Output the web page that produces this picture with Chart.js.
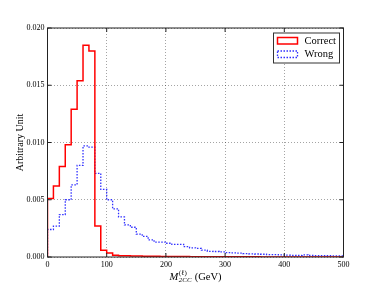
<!DOCTYPE html>
<html>
<head>
<meta charset="utf-8">
<script src="https://cdn.jsdelivr.net/npm/chart.js@4/dist/chart.umd.min.js"></script>
<style>
  html, body { margin: 0; padding: 0; background: #fff; }
</style>
</head>
<body>
<canvas id="histo" width="382" height="286"></canvas>
<script>
// left edges of the 10 GeV bins
const binEdges = [0, 10, 20, 30, 40, 50, 60, 70, 80, 90,
  100, 110, 120, 130, 140, 150, 160, 170, 180, 190,
  200, 210, 220, 230, 240, 250, 260, 270, 280, 290,
  300, 310, 320, 330, 340, 350, 360, 370, 380, 390,
  400, 410, 420, 430, 440, 450, 460, 470, 480, 490];
const xMax = 500;

const correctVals = [0.0051, 0.0062, 0.0079, 0.0098, 0.0129, 0.0154, 0.0185, 0.0180, 0.0027, 0.0006,
  0.00035, 0.00016, 0.00011, 0.0001, 0.00009, 0.00008, 0.00007, 0.00006, 0.00006, 0.00005,
  0.00005, 0.00004, 0.00004, 0.00004, 0.00003, 0.00003, 0.00003, 0.00003, 0.00003, 0.00002,
  0.00002, 0.00002, 0.00002, 0.00002, 0.00002, 0.00002, 0.00001, 0.00001, 0.00001, 0.00001,
  0.00001, 0.00001, 0.00001, 0.00001, 0.00001, 0.00001, 0.00001, 0.00001, 0.00001, 0.00001];

const wrongVals = [0.0024, 0.0027, 0.0037, 0.0050, 0.0063, 0.0080, 0.0097, 0.0096, 0.0073, 0.0059,
  0.0050, 0.0042, 0.0035, 0.0028, 0.0026, 0.0020, 0.0018, 0.0015, 0.0013, 0.0013,
  0.0012, 0.0011, 0.0011, 0.0009, 0.0008, 0.00075, 0.0006, 0.0005, 0.00048, 0.00044,
  0.00038, 0.00036, 0.00034, 0.0003, 0.00028, 0.00026, 0.00024, 0.0002, 0.0002, 0.00018,
  0.00016, 0.00015, 0.00014, 0.00018, 0.00013, 0.00012, 0.00012, 0.00011, 0.0001, 0.0001];

const seriesNames = ['Correct', 'Wrong'];
const xTicks = [0, 100, 200, 300, 400, 500];
const yTicks = [0, 0.005, 0.010, 0.015, 0.020];

const SERIF = '"Liberation Serif", "DejaVu Serif", serif';

// outline of a step histogram: up from zero at the first edge, down to zero at the last
function stepOutline(vals) {
  const pts = [{ x: binEdges[0], y: 0 }];
  binEdges.forEach((e, i) => pts.push({ x: e, y: vals[i] }));
  pts.push({ x: xMax, y: vals[vals.length - 1] });
  pts.push({ x: xMax, y: 0 });
  return pts;
}

// frame, inward ticks, x label with sub/superscripts, boxed legend
const decor = {
  id: 'decor',
  afterDatasetsDraw(chart) {
    const { ctx, chartArea: a, scales: { x, y } } = chart;
    ctx.save();
    ctx.strokeStyle = '#222';
    ctx.lineWidth = 1;
    ctx.setLineDash([]);
    ctx.strokeRect(a.left, a.top, a.right - a.left, a.bottom - a.top);

    ctx.beginPath();
    xTicks.forEach(v => {
      const px = x.getPixelForValue(v);
      ctx.moveTo(px, a.bottom); ctx.lineTo(px, a.bottom - 4);
      ctx.moveTo(px, a.top); ctx.lineTo(px, a.top + 4);
    });
    yTicks.forEach(v => {
      const py = y.getPixelForValue(v);
      ctx.moveTo(a.left, py); ctx.lineTo(a.left + 4, py);
      ctx.moveTo(a.right, py); ctx.lineTo(a.right - 4, py);
    });
    ctx.stroke();

    // x axis label: M_{2CC}^{(l)} (GeV)
    ctx.fillStyle = '#000';
    ctx.textBaseline = 'alphabetic';
    ctx.textAlign = 'left';
    const fBig = 'italic 10.5px ' + SERIF, fSmall = '7px ' + SERIF, fSmallIt = 'italic 7px ' + SERIF, fRoman = '10.5px ' + SERIF;
    ctx.font = fBig; const wM = ctx.measureText('M').width;
    ctx.font = fSmall; const wSup = ctx.measureText('(ℓ)').width;
    ctx.font = fSmallIt; const wSub = ctx.measureText('2CC').width;
    ctx.font = fRoman; const wRest = ctx.measureText(' (GeV)').width;
    const total = wM + Math.max(wSup, wSub) + 1 + wRest;
    let tx = (a.left + a.right) / 2 - total / 2;
    const base = 280;
    ctx.font = fBig; ctx.fillText('M', tx, base);
    tx += wM + 0.5;
    ctx.font = fSmall; ctx.fillText('(ℓ)', tx, base - 5.5);
    ctx.font = fSmallIt; ctx.fillText('2CC', tx, base + 1.5);
    tx += Math.max(wSup, wSub) + 0.5;
    ctx.font = fRoman; ctx.fillText(' (GeV)', tx, base);

    // legend
    const bx = a.right - 70, by = a.top + 5, bw = 66, bh = 30;
    ctx.fillStyle = '#fff';
    ctx.fillRect(bx, by, bw, bh);
    ctx.strokeStyle = '#333';
    ctx.lineWidth = 1;
    ctx.strokeRect(bx, by, bw, bh);
    chart.data.datasets.forEach((ds, i) => {
      const ry = by + 4.5 + i * 13.5;
      ctx.strokeStyle = ds.borderColor;
      ctx.lineWidth = ds.borderWidth;
      ctx.setLineDash(ds.borderDash || []);
      ctx.strokeRect(bx + 4, ry, 20, 6.5);
      ctx.setLineDash([]);
      ctx.fillStyle = '#000';
      ctx.font = '10.5px ' + SERIF;
      ctx.textBaseline = 'middle';
      ctx.fillText(ds.label, bx + 31, ry + 3.5);
    });
    ctx.restore();
  }
};

new Chart(document.getElementById('histo'), {
  type: 'line',
  data: {
    datasets: [
      { label: seriesNames[0], data: stepOutline(correctVals), borderColor: '#ff0000', borderWidth: 1.5, stepped: true, pointRadius: 0, fill: false },
      { label: seriesNames[1], data: stepOutline(wrongVals), borderColor: '#3030ff', borderWidth: 1.3, borderDash: [1.5, 1.5], stepped: true, pointRadius: 0, fill: false }
    ]
  },
  options: {
    responsive: false,
    animation: false,
    layout: { padding: { left: 0, top: 28, right: 38.5, bottom: 0 } },
    plugins: { legend: { display: false }, tooltip: { enabled: false } },
    scales: {
      x: {
        type: 'linear', min: 0, max: xMax,
        afterBuildTicks: s => { s.ticks = xTicks.map(v => ({ value: v })); },
        afterFit: s => { s.height = 29; },
        ticks: { color: '#000', font: { family: SERIF, size: 8 }, padding: 3, maxRotation: 0 },
        grid: { color: 'rgba(0,0,0,0.45)', lineWidth: 0.8, drawTicks: false },
        border: { display: false, dash: [1, 2] }
      },
      y: {
        min: 0, max: 0.02,
        afterBuildTicks: s => { s.ticks = yTicks.map(v => ({ value: v })); },
        afterFit: s => { s.width = 47.5; },
        ticks: { color: '#000', font: { family: SERIF, size: 8 }, padding: 3, callback: v => v.toFixed(3) },
        grid: { color: 'rgba(0,0,0,0.45)', lineWidth: 0.8, drawTicks: false },
        border: { display: false, dash: [1, 2] },
        title: { display: true, text: 'Arbitrary Unit', color: '#000', font: { family: SERIF, size: 10 }, padding: { top: 14, bottom: 0 } }
      }
    }
  },
  plugins: [decor]
});
</script>
</body>
</html>
